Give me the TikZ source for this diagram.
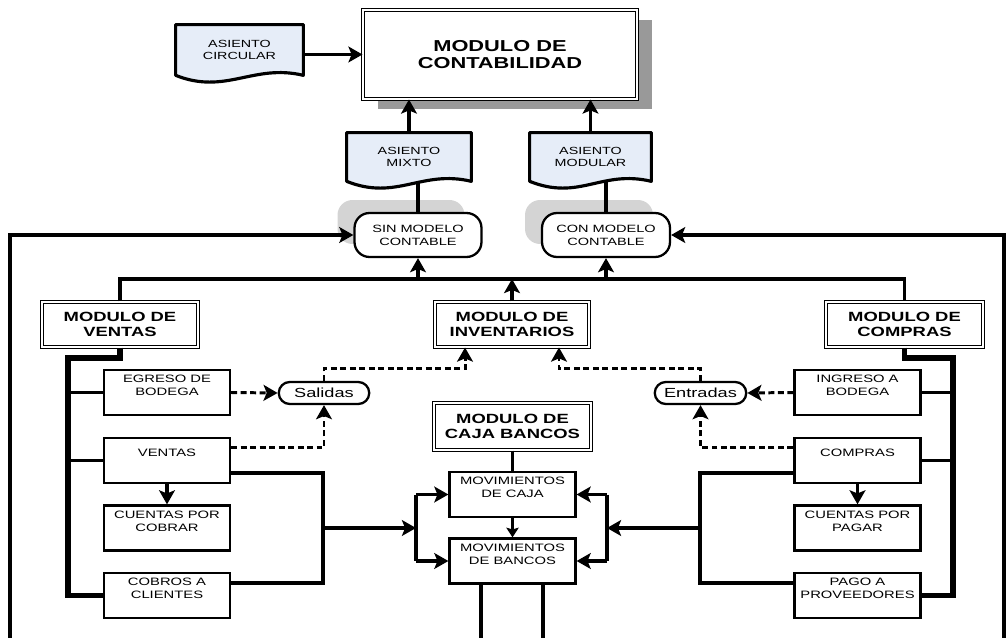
\documentclass[tikz,border=0pt]{standalone}
\usepackage{fontspec}
\setmainfont[FakeStretch=1.38]{Liberation Sans}
\usetikzlibrary{arrows.meta,shadows,backgrounds,shapes.misc}
\definecolor{docblue}{HTML}{E6EDF8}
\begin{document}
\begin{tikzpicture}[x=0.02cm,y=-0.02cm, % flujo contable
    line/.style={line width=2pt},
    arr/.style={line width=2pt,-{Stealth[length=8pt,width=9pt,inset=1.8pt]}},
    thinarr/.style={line width=1.3pt,-{Stealth[length=5.5pt,width=7pt,inset=1pt]}},
    darr/.style={line width=1.7pt,dash pattern=on 3.4pt off 2pt,-{Stealth[length=8pt,width=9pt,inset=1.8pt]}},
    spine/.style={line width=3.2pt},
    modbox/.style={draw,double,line width=0.6pt,double distance=1.1pt,fill=white,align=center,
        font=\fontsize{7.6}{8.6}\selectfont\bfseries,minimum height=0.9cm},
    cellbox/.style={draw,line width=1.3pt,fill=white,inner sep=0.05cm,minimum width=2.52cm,
        minimum height=0.9cm,font=\fontsize{6.1}{7.4}\selectfont},
    docnode/.style={minimum height=0.96cm,align=center,font=\fontsize{5.9}{7.2}\selectfont},
    docline/.style={draw,line width=1.8pt,fill=docblue,line join=round},
    modelo/.style={draw,line width=1.3pt,fill=white,rounded corners=0.3cm,minimum width=2.54cm,
        minimum height=0.88cm,align=center,font=\fontsize{6}{7.4}\selectfont,
        drop shadow={shadow xshift=-0.34cm,shadow yshift=0.26cm,fill=black!17,opacity=1}},
    flujo/.style={draw,line width=1.3pt,fill=white,rounded rectangle,minimum width=1.88cm,
        minimum height=0.44cm,inner sep=1pt,font=\fontsize{7.5}{9}\selectfont}]
\def\celda#1{\parbox[c][0.8cm][t]{2.4cm}{\centering\vspace*{1.5pt}#1}}
\def\celdauna#1{\parbox[c][0.8cm][t]{2.4cm}{\centering\vspace*{5pt}#1}}
\def\docpath#1{(#1.north west) -- (#1.north east) -- (#1.south east)
    .. controls +(-50,-12) and +(50,20) .. (#1.south west) -- cycle}
\useasboundingbox (0,0) rectangle (1007,638);

    % contabilidad y asientos
    \node[modbox,minimum width=5.48cm,minimum height=1.78cm,font=\fontsize{9}{9.8}\selectfont\bfseries,
        drop shadow={shadow xshift=0.3cm,shadow yshift=-0.2cm,fill=black!40,opacity=1}]
        (contab) at (500,54.5) {MODULO DE\\CONTABILIDAD};
    \node[docnode,minimum width=2.54cm,minimum height=1cm] (circular) at (239.5,50) {ASIENTO\\CIRCULAR};
    \node[docnode,minimum width=2.48cm] (mixto) at (409,157) {ASIENTO\\MIXTO};
    \node[docnode,minimum width=2.42cm] (modular) at (590.5,157) {ASIENTO\\MODULAR};
    \node[modelo] (sinmod) at (418,235) {SIN MODELO\\CONTABLE};
    \node[modelo,minimum width=2.56cm] (conmod) at (606,235) {CON MODELO\\CONTABLE};

    % modulos
    \node[modbox,minimum width=3.12cm] (modventas) at (120,324.5) {MODULO DE\\VENTAS};
    \node[modbox,minimum width=3.08cm] (modinv) at (512,324.5) {MODULO DE\\INVENTARIOS};
    \node[modbox,minimum width=3.14cm] (modcompras) at (904.5,324.5) {MODULO DE\\COMPRAS};
    \node[modbox,minimum width=3.14cm,minimum height=0.94cm] (modcaja) at (512.5,426.5) {MODULO DE\\CAJA BANCOS};

    \node[cellbox] (egreso) at (167,392.5) {\celda{EGRESO DE\\BODEGA}};
    \node[cellbox] (ventas) at (167,460.5) {\celdauna{VENTAS}};
    \node[cellbox] (cxc) at (167,528) {\celda{CUENTAS POR\\COBRAR}};
    \node[cellbox] (cobros) at (167,595.5) {\celda{COBROS A\\CLIENTES}};
    \node[cellbox] (ingreso) at (857.5,392.5) {\celda{INGRESO A\\BODEGA}};
    \node[cellbox] (compras) at (857.5,460.5) {\celdauna{COMPRAS}};
    \node[cellbox] (cxp) at (857.5,528) {\celda{CUENTAS POR\\PAGAR}};
    \node[cellbox] (pago) at (857.5,595.5) {\celda{PAGO A\\PROVEEDORES}};
    \node[cellbox] (movcaja) at (512.5,494.5) {\celda{MOVIMIENTOS\\DE CAJA}};
    \node[cellbox] (movbancos) at (512.5,561) {\celda{MOVIMIENTOS\\DE BANCOS}};

    \node[flujo] (salidas) at (324,393) {Salidas};
    \node[flujo,minimum width=1.9cm] (entradas) at (700.5,393) {Entradas};

    \coordinate (bus) at (512,279);
    \coordinate (spL) at (68,358);
    \coordinate (spR) at (953,358);
    \coordinate (cornerL) at (10,638);
    \coordinate (cornerR) at (1004,638);
    \coordinate (jl) at (323,528);
    \coordinate (jm) at (416,528);
    \coordinate (jr) at (700,528);
    \coordinate (jn) at (607,528);
    \coordinate (bb1) at (481,638);
    \coordinate (bb2) at (543,638);

    \begin{scope}[on background layer]
        \foreach \d in {circular,mixto,modular} \path[docline] \docpath{\d};
    \end{scope}

    % hacia contabilidad
    \draw[arr] (circular.east |- contab.west) -- (contab.west);
    \draw[arr] (mixto.north) -- (mixto.north |- contab.south);
    \draw[arr] (modular.north) -- (modular.north |- contab.south);
    \draw[line] (sinmod.north) -- (sinmod.north |- mixto.south);
    \draw[line] (conmod.north) -- (conmod.north |- modular.south);
    \draw[arr] (cornerL) |- (sinmod.west);
    \draw[arr] (cornerR) |- (conmod.east);

    % barra de modulos
    \draw[line] (modventas.north) -- (modventas.north |- bus) -- (modcompras.north |- bus) -- (modcompras.north);
    \draw[arr] (modinv.north) -- (bus);
    \draw[arr] (sinmod.south |- bus) -- (sinmod.south);
    \draw[arr] (conmod.south |- bus) -- (conmod.south);

    % ventas
    \draw[spine] (modventas.south) |- (spL) |- (cobros.west);
    \draw[line] (spL |- egreso.west) -- (egreso.west);
    \draw[line] (spL |- ventas.west) -- (ventas.west);
    \draw[arr] (ventas.south) -- (cxc.north);
    \draw[line] ([yshift=0.22cm]ventas.south east) -| (jl) |- ([yshift=-0.22cm]cobros.north east);

    % compras
    \draw[spine] (modcompras.south) |- (spR) |- (pago.east);
    \draw[line] (spR |- ingreso.east) -- (ingreso.east);
    \draw[line] (spR |- compras.east) -- (compras.east);
    \draw[arr] (compras.south) -- (cxp.north);
    \draw[line] ([yshift=0.22cm]compras.south west) -| (jr) |- ([yshift=-0.22cm]pago.north west);

    % caja bancos
    \draw[arr] (jl) -- (jm);
    \draw[line] (jm |- movcaja.west) -- (jm |- movbancos.west);
    \draw[arr] (jm |- movcaja.west) -- (movcaja.west);
    \draw[arr] (jm |- movbancos.west) -- (movbancos.west);
    \draw[arr] (jr) -- (jn);
    \draw[line] (jn |- movcaja.east) -- (jn |- movbancos.east);
    \draw[arr] (jn |- movcaja.east) -- (movcaja.east);
    \draw[arr] (jn |- movbancos.east) -- (movbancos.east);
    \draw[line] (modcaja.south) -- (movcaja.north);
    \draw[thinarr] (movcaja.south) -- (movbancos.north);
    \draw[line] (bb1 |- movbancos.south) -- (bb1);
    \draw[line] (bb2 |- movbancos.south) -- (bb2);

    % inventarios
    \draw[darr] (egreso.east) -- (salidas.west);
    \draw[darr] ([yshift=-0.22cm]ventas.north east) -| (salidas.south);
    \draw[darr] (salidas.north) -- ++(0,-12) -| ([xshift=-0.94cm]modinv.south);
    \draw[darr] (ingreso.west) -- (entradas.east);
    \draw[darr] ([yshift=-0.22cm]compras.north west) -| (entradas.south);
    \draw[darr] (entradas.north) -- ++(0,-12) -| ([xshift=0.94cm]modinv.south);
\end{tikzpicture}
\end{document}
